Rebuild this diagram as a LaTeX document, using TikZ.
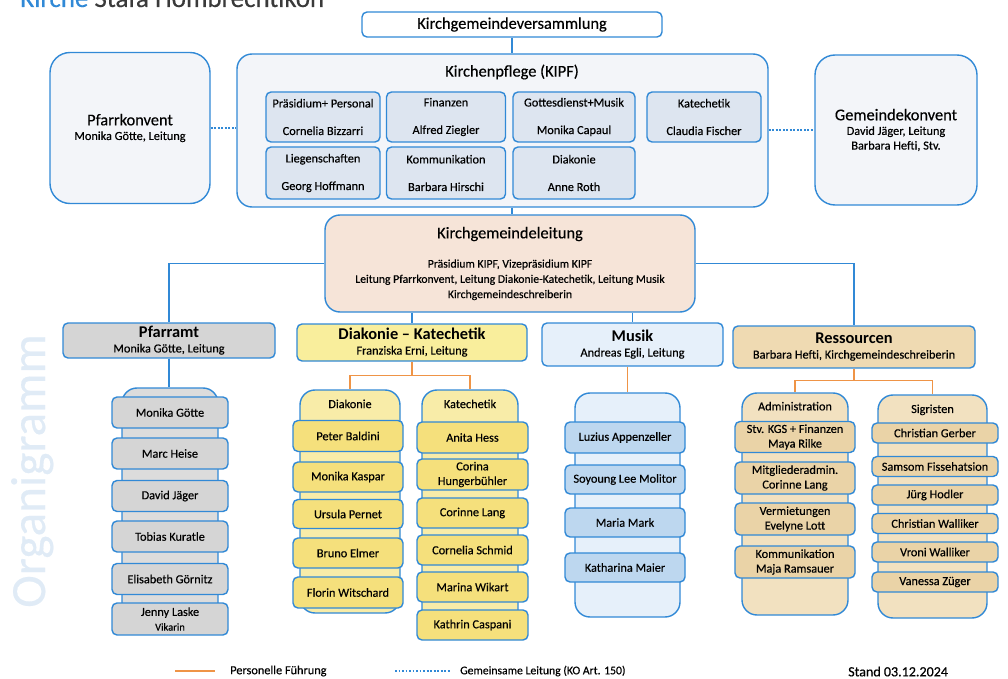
\documentclass[tikz,border=0pt]{standalone}
\usepackage{fontspec}
\setmainfont{Carlito}[UprightFeatures={FakeBold=0.35}]
\usetikzlibrary{positioning}
\definecolor{kblue}{HTML}{3189D6}
\definecolor{korange}{HTML}{EF9446}
\definecolor{kipfbg}{HTML}{F3F5F9}
\definecolor{subbg}{HTML}{DDE5F0}
\definecolor{kglbg}{HTML}{F6E4D8}
\definecolor{pfabg}{HTML}{D5D5D5}
\definecolor{pfacolbg}{HTML}{DCDCDC}
\definecolor{dkbg}{HTML}{F9EE9C}
\definecolor{dkcolbg}{HTML}{F8ECA8}
\definecolor{dkitem}{HTML}{F5E07C}
\definecolor{musbg}{HTML}{E6F0FA}
\definecolor{musitem}{HTML}{BDD7EF}
\definecolor{resbg}{HTML}{EFDAB2}
\definecolor{rescolbg}{HTML}{F2E1C0}
\definecolor{resitem}{HTML}{EAD3A7}
\definecolor{orgtext}{HTML}{E0EBF6}
\definecolor{ktext}{HTML}{3A3A3A}

\begin{document}
\begin{tikzpicture}[x=0.03cm, y=-0.03cm,
    bx/.style={draw=kblue, line width=1.2pt, rounded corners=0.15cm, inner sep=0pt, align=center, font=\fontsize{10.5}{12.5}\selectfont},
    sz/.style 2 args={minimum width=#1*0.03cm, minimum height=#2*0.03cm},
    big/.style={bx, rounded corners=0.45cm},
    hd/.style={font=\fontsize{14}{16}\selectfont},
    nm/.style={inner sep=0pt, font=\fontsize{10.5}{12.5}\selectfont},
    lead/.style={draw=kblue, line width=1.3pt},
    staff/.style={draw=korange, line width=1.1pt},
    joint/.style={draw=kblue, line width=1.6pt, dash pattern=on 1.6pt off 1.4pt}]
    \useasboundingbox (0,0) rectangle (1008,679);

    \node[anchor=base west, inner sep=0pt, text=ktext, font=\fontsize{23}{26}\selectfont] (ttl) at (20,7) {\textcolor{kblue}{Kirche} Stäfa Hombrechtikon};
    \node[rotate=90, anchor=base west, inner sep=0pt, text=orgtext, font=\fontsize{42}{46}\selectfont] (org) at (45,608) {Organigramm};

    \node[bx, sz={300}{25}, hd, fill=white] (kgv) at (512,24.5) {Kirchgemeindeversammlung};

    \node[big, sz={531}{153}, fill=kipfbg] (kipf) at (502.5,130.5) {};
    \node[hd, inner sep=0pt] (kipft) at (512,72) {Kirchenpflege (KIPF)};
    \node[bx, sz={114}{50}, fill=subbg] (praes) at (323,117) {Präsidium+ Personal\\[11pt]Cornelia Bizzarri};
    \node[bx, sz={119}{50}, fill=subbg] (fin) at (446,117) {Finanzen\\[11pt]Alfred Ziegler};
    \node[bx, sz={122}{50}, fill=subbg] (gott) at (574,117) {Gottesdienst+Musik\\[11pt]Monika Capaul};
    \node[bx, sz={114}{50}, fill=subbg] (kat) at (704,117) {Katechetik\\[11pt]Claudia Fischer};
    \node[bx, sz={114}{52}, fill=subbg] (lieg) at (323,173) {Liegenschaften\\[11pt]Georg Hoffmann};
    \node[bx, sz={119}{52}, fill=subbg] (komm) at (446,173) {Kommunikation\\[11pt]Barbara Hirschi};
    \node[bx, sz={122}{52}, fill=subbg] (dia) at (574,173) {Diakonie\\[11pt]Anne Roth};

    \node[big, sz={160}{151}, fill=kipfbg, rounded corners=0.6cm] (pk) at (130,128) {{\fontsize{14}{16}\selectfont Pfarrkonvent}\\Monika Götte, Leitung};
    \node[big, sz={162}{150}, fill=kipfbg, rounded corners=0.6cm] (gk) at (896,130) {{\fontsize{14}{16}\selectfont Gemeindekonvent}\\David Jäger, Leitung\\Barbara Hefti, Stv.};

    \node[big, sz={370}{97}, fill=kglbg, font=\fontsize{10}{13}\selectfont] (kgl) at (510,263.5) {{\fontsize{14}{16}\selectfont Kirchgemeindeleitung}\\[12pt]Präsidium KIPF, Vizepräsidium KIPF\\Leitung Pfarrkonvent, Leitung Diakonie-Katechetik, Leitung Musik\\Kirchgemeindeschreiberin};

    \node[bx, sz={212}{35}, fill=pfabg] (pfa) at (169,340.5) {{\bfseries\fontsize{14}{16}\selectfont Pfarramt}\\Monika Götte, Leitung};
    \node[bx, sz={230}{37}, fill=dkbg] (dk) at (412,342.5) {{\bfseries\fontsize{14}{16}\selectfont Diakonie – Katechetik}\\Franziska Erni, Leitung};
    \node[bx, sz={181}{43}, fill=musbg] (mus) at (632.5,344.5) {{\bfseries\fontsize{14}{16}\selectfont Musik}\\Andreas Egli, Leitung};
    \node[bx, sz={242}{42}, fill=resbg] (res) at (854,347) {{\bfseries\fontsize{14}{16}\selectfont Ressourcen}\\Barbara Hefti, Kirchgemeindeschreiberin};

    \node[big, sz={96}{244}, fill=pfacolbg] (pfacol) at (170,510) {};
    \node[bx, sz={116}{31}, fill=pfabg] (pf1) at (170,412.5) {Monika Götte};
    \node[bx, sz={116}{31}, fill=pfabg] (pf2) at (170,453.5) {Marc Heise};
    \node[bx, sz={116}{31}, fill=pfabg] (pf3) at (170,496) {David Jäger};
    \node[bx, sz={116}{31}, fill=pfabg] (pf4) at (170,536.5) {Tobias Kuratle};
    \node[bx, sz={116}{31}, fill=pfabg] (pf5) at (170,579) {Elisabeth Görnitz};
    \node[bx, sz={116}{32}, fill=pfabg] (pf6) at (170,619) {Jenny Laske\\{\fontsize{9}{10}\selectfont Vikarin}};

    \node[big, sz={100}{223}, fill=dkcolbg] (diacol) at (350,501.5) {};
    \node[nm, below=0.3cm of diacol.north] (diahd) {Diakonie};
    \node[bx, sz={110}{31}, fill=dkitem] (di1) at (348,436) {Peter Baldini};
    \node[bx, sz={110}{30}, fill=dkitem] (di2) at (348,477) {Monika Kaspar};
    \node[bx, sz={110}{29}, fill=dkitem] (di3) at (348,514) {Ursula Pernet};
    \node[bx, sz={110}{30}, fill=dkitem] (di4) at (348,553) {Bruno Elmer};
    \node[bx, sz={110}{31}, fill=dkitem] (di5) at (348,592.5) {Florin Witschard};

    \node[big, sz={96}{245}, fill=dkcolbg] (katcol) at (470,512.5) {};
    \node[nm, below=0.3cm of katcol.north] (kathd) {Katechetik};
    \node[bx, sz={111}{31}, fill=dkitem] (ka1) at (472.5,437.5) {Anita Hess};
    \node[bx, sz={111}{31}, fill=dkitem] (ka2) at (472.5,474.5) {Corina\\Hungerbühler};
    \node[bx, sz={111}{30}, fill=dkitem] (ka3) at (472.5,513) {Corinne Lang};
    \node[bx, sz={111}{30}, fill=dkitem] (ka4) at (472.5,550) {Cornelia Schmid};
    \node[bx, sz={111}{30}, fill=dkitem] (ka5) at (472.5,587) {Marina Wikart};
    \node[bx, sz={111}{30}, fill=dkitem] (ka6) at (472.5,625) {Kathrin Caspani};

    \node[big, sz={105}{224}, fill=musbg] (muscol) at (627.5,505) {};
    \node[bx, sz={120}{31}, fill=musitem] (mu1) at (625,437.5) {Luzius Appenzeller};
    \node[bx, sz={120}{29}, fill=musitem] (mu2) at (625,479.5) {Soyoung Lee Molitor};
    \node[bx, sz={120}{29}, fill=musitem] (mu3) at (625,522.5) {Maria Mark};
    \node[bx, sz={120}{29}, fill=musitem] (mu4) at (625,567.5) {Katharina Maier};

    \node[big, sz={106}{222}, fill=rescolbg] (admcol) at (795,504) {};
    \node[nm, below=0.28cm of admcol.north] (admhd) {Administration};
    \node[bx, sz={120}{31}, fill=resitem] (ad1) at (795,437) {Stv. KGS + Finanzen\\Maya Rilke};
    \node[bx, sz={120}{32}, fill=resitem] (ad2) at (795,478) {Mitgliederadmin.\\Corinne Lang};
    \node[bx, sz={120}{32}, fill=resitem] (ad3) at (795,519) {Vermietungen\\Evelyne Lott};
    \node[bx, sz={120}{32}, fill=resitem] (ad4) at (795,562) {Kommunikation\\Maja Ramsauer};

    \node[big, sz={109}{223}, fill=rescolbg] (sigcol) at (932.5,506.5) {};
    \node[nm, below=0.3cm of sigcol.north] (sighd) {Sigristen};
    \node[bx, sz={126}{20}, fill=resitem] (si1) at (935,433) {Christian Gerber};
    \node[bx, sz={126}{20}, fill=resitem] (si2) at (935,466.5) {Samsom Fissehatsion};
    \node[bx, sz={126}{20}, fill=resitem] (si3) at (935,495) {Jürg Hodler};
    \node[bx, sz={126}{20}, fill=resitem] (si4) at (935,523.5) {Christian Walliker};
    \node[bx, sz={126}{20}, fill=resitem] (si5) at (935,552) {Vroni Walliker};
    \node[bx, sz={126}{20}, fill=resitem] (si6) at (935,582) {Vanessa Züger};

    \draw[lead] (kgv.south) -- (kgv.south |- kipf.north);
    \draw[lead] (kgv.south |- kipf.south) -- (kgv.south |- kgl.north);
    \draw[joint] (pk.east) -- (pk.east -| kipf.west);
    \draw[joint] (gk.west -| kipf.east) -- (gk.west);
    \draw[lead] (kgl.west) -| (pfa.north);
    \draw[lead] (kgl.east) -| (res.north);
    \draw[lead] (dk.north |- kgl.south) -- (dk.north);
    \draw[lead] (mus.north |- kgl.south) -- (mus.north);
    \draw[lead] (pfa.south) -- (pfa.south |- pfacol.north);
    \draw[staff] (dk.south) -- ++(0,14) -| (diacol.north);
    \draw[staff] (dk.south) ++(0,14) -| (katcol.north);
    \draw[staff] (muscol.north |- mus.south) -- (muscol.north);
    \draw[staff] (res.south) -- ++(0,12) -| (admcol.north);
    \draw[staff] (res.south) ++(0,12) -| (sigcol.north);

    \coordinate (lga) at (175,671);
    \coordinate (lgb) at (215,671);
    \coordinate (lgc) at (395,671);
    \coordinate (lgd) at (450,671);
    \draw[staff] (lga) -- (lgb);
    \draw[joint, line width=1.3pt] (lgc) -- (lgd);
    \node[nm, anchor=west] (lg1) at (230,671) {Personelle Führung};
    \node[nm, anchor=west, font=\fontsize{10}{12}\selectfont] (lg2) at (460,671) {Gemeinsame Leitung (KO Art. 150)};
    \node[nm, anchor=west, font=\fontsize{12}{14}\selectfont] (stand) at (848,671.5) {Stand 03.12.2024};
\end{tikzpicture}
\end{document}
